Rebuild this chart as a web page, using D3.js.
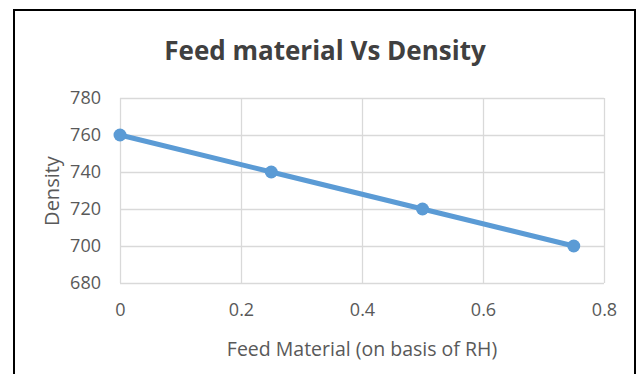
<!DOCTYPE html>
<html><head><meta charset="utf-8">
<script src="https://cdn.jsdelivr.net/npm/d3@7"></script>
<style>body{margin:0;background:#fff;} text{font-family:"Open Sans", sans-serif;}</style>
</head><body>
<svg id="c" width="638" height="374"></svg>
<script>
const feed = [0, 0.25, 0.5, 0.75];
const density = [760, 740, 720, 700];
const xTicks = [0, 0.2, 0.4, 0.6, 0.8];
const yTicks = [680, 700, 720, 740, 760, 780];
const title = "Feed material Vs Density";
const xTitle = "Feed Material (on basis of RH)";
const yTitle = "Density";

const svg = d3.select("#c");
svg.append("rect").attr("x",14).attr("y",10).attr("width",621).attr("height",380)
  .attr("fill","#fff").attr("stroke","#000").attr("stroke-width",2);

const m = {l:120, r:604, t:98, b:283};
const x = d3.scaleLinear().domain([0,0.8]).range([m.l,m.r]);
const y = d3.scaleLinear().domain([680,780]).range([m.b,m.t]);

const gx = svg.append("g").attr("transform",`translate(0,${m.b})`)
  .call(d3.axisBottom(x).tickValues(xTicks).tickSize(-(m.b-m.t)).tickPadding(20).tickFormat(d=>d===0?"0":d3.format(".1f")(d)));
const gy = svg.append("g").attr("transform",`translate(${m.l},0)`)
  .call(d3.axisLeft(y).tickValues(yTicks).tickSize(-(m.r-m.l)).tickPadding(19));
[gx,gy].forEach(g=>{
  g.select(".domain").remove();
  g.selectAll(".tick line").attr("stroke","#d9d9d9").attr("stroke-width",1.3);
  g.selectAll(".tick text").attr("fill","#595959").style("font-size","18px");
});

const line = d3.line().x((d,i)=>x(feed[i])).y(d=>y(d));
svg.append("path").datum(density).attr("d",line).attr("fill","none")
  .attr("stroke","#5b9bd5").attr("stroke-width",5).attr("stroke-linecap","round");
svg.selectAll("circle.pt").data(density).join("circle").attr("class","pt")
  .attr("cx",(d,i)=>x(feed[i])).attr("cy",d=>y(d)).attr("r",6.5).attr("fill","#5b9bd5");

svg.append("text").attr("x",325).attr("y",60).attr("text-anchor","middle")
  .attr("fill","#404040").style("font-size","26px").style("font-weight","bold").text(title);
svg.append("text").attr("x",362).attr("y",356).attr("text-anchor","middle")
  .attr("fill","#595959").style("font-size","19.5px").text(xTitle);
svg.append("text").attr("transform","translate(59,191) rotate(-90)").attr("text-anchor","middle")
  .attr("fill","#595959").style("font-size","20px").text(yTitle);
</script>
</body></html>
